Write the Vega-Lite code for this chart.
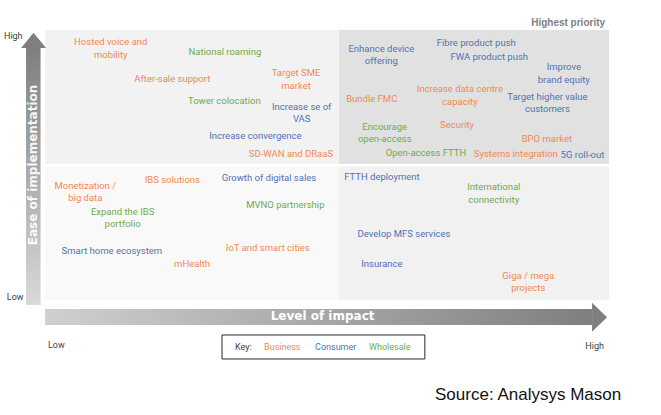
{
  "$schema": "https://vega.github.io/schema/vega-lite/v6.json",
  "width": 661,
  "height": 415,
  "padding": 0,
  "autosize": {"type": "fit", "contains": "padding"},
  "background": "white",
  "config": {"view": {"stroke": null}},
  "datasets": {
    "quadrants": [
      {"zone": "Quick wins", "impact": 0.2, "impact2": 52.2, "ease": 50.4, "ease2": 100},
      {"zone": "Highest priority", "impact": 52.2, "impact2": 100, "ease": 50.4, "ease2": 100},
      {"zone": "Low priority", "impact": 0.2, "impact2": 52.2, "ease": 0, "ease2": 49.4},
      {"zone": "Strategic", "impact": 52.2, "impact2": 100, "ease": 0, "ease2": 49.4}
    ],
    "vshaft": [{"impact": -3.19, "impact2": -0.62, "ease": -1.85, "ease2": 93.3}],
    "hshaft": [{"impact": 0.18, "impact2": 97.0, "ease": -3.33, "ease2": -9.26}],
    "vhead": [
      {"ease": 93.3, "impact": -4.07, "impact2": 0.35},
      {"ease": 99.0, "impact": -1.86, "impact2": -1.86}
    ],
    "hhead": [
      {"impact": 97.0, "ease": -1.0, "ease2": -11.74},
      {"impact": 99.65, "ease": -6.37, "ease2": -6.37}
    ],
    "keybox": [{"impact": 31.5, "impact2": 67.4, "ease": -12.96, "ease2": -21.85}],
    "initiatives": [
      {"label": "Hosted voice and\nmobility", "impact": 11.8, "ease": 95.4, "segment": "Business"},
      {"label": "National roaming", "impact": 32.0, "ease": 92.0, "segment": "Wholesale"},
      {"label": "After-sale support", "impact": 22.7, "ease": 81.9, "segment": "Business"},
      {"label": "Target SME\nmarket", "impact": 44.6, "ease": 84.0, "segment": "Business"},
      {"label": "Tower colocation", "impact": 31.9, "ease": 73.7, "segment": "Wholesale"},
      {"label": "Increase se of\nVAS", "impact": 45.6, "ease": 71.6, "segment": "Consumer"},
      {"label": "Increase convergence", "impact": 37.4, "ease": 60.7, "segment": "Consumer"},
      {"label": "SD-WAN and DRaaS", "impact": 43.7, "ease": 54.0, "segment": "Business"},
      {"label": "Enhance device\noffering", "impact": 59.7, "ease": 93.0, "segment": "Consumer"},
      {"label": "Fibre product push", "impact": 76.5, "ease": 95.3, "segment": "Consumer"},
      {"label": "FWA product push", "impact": 78.8, "ease": 90.1, "segment": "Consumer"},
      {"label": "Improve\nbrand equity", "impact": 92.0, "ease": 86.2, "segment": "Consumer"},
      {"label": "Increase data centre\ncapacity", "impact": 73.6, "ease": 78.1, "segment": "Business"},
      {"label": "Bundle FMC", "impact": 58.0, "ease": 74.3, "segment": "Business"},
      {"label": "Target higher value\ncustomers", "impact": 89.1, "ease": 75.3, "segment": "Consumer"},
      {"label": "Encourage\nopen-access", "impact": 60.3, "ease": 64.2, "segment": "Wholesale"},
      {"label": "Security", "impact": 73.1, "ease": 64.8, "segment": "Business"},
      {"label": "BPO market", "impact": 89.0, "ease": 59.5, "segment": "Business"},
      {"label": "Open-access FTTH", "impact": 67.6, "ease": 54.3, "segment": "Wholesale"},
      {"label": "Systems integration", "impact": 83.5, "ease": 54.1, "segment": "Business"},
      {"label": "5G roll-out", "impact": 95.3, "ease": 53.7, "segment": "Consumer"},
      {"label": "Monetization /\nbig data", "impact": 7.3, "ease": 42.3, "segment": "Business"},
      {"label": "IBS solutions", "impact": 22.7, "ease": 44.4, "segment": "Business"},
      {"label": "Growth of digital sales", "impact": 39.8, "ease": 45.3, "segment": "Consumer"},
      {"label": "Expand the IBS\nportfolio", "impact": 13.9, "ease": 32.7, "segment": "Wholesale"},
      {"label": "MVNO partnership", "impact": 42.7, "ease": 35.2, "segment": "Wholesale"},
      {"label": "Smart home ecosystem", "impact": 12.0, "ease": 18.3, "segment": "Consumer"},
      {"label": "IoT and smart cities", "impact": 39.6, "ease": 19.1, "segment": "Business"},
      {"label": "mHealth", "impact": 26.2, "ease": 13.3, "segment": "Business"},
      {"label": "FTTH deployment", "impact": 59.8, "ease": 45.7, "segment": "Consumer"},
      {"label": "International\nconnectivity", "impact": 79.6, "ease": 41.7, "segment": "Wholesale"},
      {"label": "Develop MFS services", "impact": 63.7, "ease": 24.3, "segment": "Consumer"},
      {"label": "Insurance", "impact": 59.8, "ease": 13.3, "segment": "Consumer"},
      {"label": "Giga / mega\nprojects", "impact": 85.7, "ease": 9.0, "segment": "Business"}
    ],
    "notesLeft": [
      {"label": "High", "impact": -7.1, "ease": 97.8},
      {"label": "Low", "impact": -6.6, "ease": 1.0},
      {"label": "Low", "impact": 0.7, "ease": -16.7},
      {"label": "Key:", "impact": 33.8, "ease": -17.5}
    ],
    "notesRight": [
      {"label": "High", "impact": 99.1, "ease": -17.2}
    ],
    "keyItems": [
      {"label": "Business", "impact": 38.94, "ease": -17.5, "segment": "Business"},
      {"label": "Consumer", "impact": 47.96, "ease": -17.5, "segment": "Consumer"},
      {"label": "Wholesale", "impact": 57.52, "ease": -17.5, "segment": "Wholesale"}
    ],
    "priority": [{"label": "Highest priority", "impact": 99.3, "ease": 102.5}],
    "yTitle": [{"label": "Ease of implementation", "impact": -1.95, "ease": 50.0}],
    "xTitle": [{"label": "Level of impact", "impact": 49.3, "ease": -5.93}],
    "source": [{"label": "Source: Analysys Mason", "impact": 69.2, "ease": -35.2}]
  },
  "encoding": {
    "x": {"field": "impact", "type": "quantitative", "scale": {"domain": [-7.8, 109.2], "nice": false, "zero": false}, "axis": null},
    "y": {"field": "ease", "type": "quantitative", "scale": {"domain": [-42.6, 111.1], "nice": false, "zero": false}, "axis": null}
  },
  "layer": [
    {
      "data": {"name": "quadrants"},
      "mark": {"type": "rect"},
      "encoding": {
        "x2": {"field": "impact2"},
        "y2": {"field": "ease2"},
        "fill": {"field": "zone", "type": "nominal", "legend": null,
          "scale": {"domain": ["Quick wins", "Highest priority", "Low priority", "Strategic"], "range": ["#f2f2f2", "#e1e1e1", "#f9f9f9", "#f1f1f1"]}}
      }
    },
    {
      "data": {"name": "vshaft"},
      "mark": {"type": "rect", "color": {"gradient": "linear", "x1": 0, "y1": 1, "x2": 0, "y2": 0, "stops": [{"offset": 0, "color": "#d9d9d9"}, {"offset": 1, "color": "#7f7f7f"}]}},
      "encoding": {"x2": {"field": "impact2"}, "y2": {"field": "ease2"}}
    },
    {
      "data": {"name": "vhead"},
      "mark": {"type": "area", "orient": "horizontal", "color": "#7f7f7f"},
      "encoding": {"x2": {"field": "impact2"}}
    },
    {
      "data": {"name": "hshaft"},
      "mark": {"type": "rect", "color": {"gradient": "linear", "x1": 0, "y1": 0, "x2": 1, "y2": 0, "stops": [{"offset": 0, "color": "#d0d0d0"}, {"offset": 1, "color": "#7f7f7f"}]}},
      "encoding": {"x2": {"field": "impact2"}, "y2": {"field": "ease2"}}
    },
    {
      "data": {"name": "hhead"},
      "mark": {"type": "area", "orient": "vertical", "color": "#7f7f7f"},
      "encoding": {"y2": {"field": "ease2"}}
    },
    {
      "data": {"name": "keybox"},
      "mark": {"type": "rect", "fill": "white", "stroke": "#262626", "strokeWidth": 1},
      "encoding": {"x2": {"field": "impact2"}, "y2": {"field": "ease2"}}
    },
    {
      "data": {"name": "initiatives"},
      "mark": {"type": "text", "font": "Roboto", "fontSize": 9.5, "lineBreak": "\n", "lineHeight": 12.5, "align": "center", "baseline": "middle"},
      "encoding": {
        "text": {"field": "label"},
        "color": {"field": "segment", "type": "nominal", "legend": null,
          "scale": {"domain": ["Business", "Consumer", "Wholesale"], "range": ["#ee8a52", "#4f73b8", "#6fab4c"]}}
      }
    },
    {
      "data": {"name": "keyItems"},
      "mark": {"type": "text", "font": "Roboto", "fontSize": 9, "align": "left", "baseline": "middle"},
      "encoding": {
        "text": {"field": "label"},
        "color": {"field": "segment", "type": "nominal", "legend": null}
      }
    },
    {
      "data": {"name": "notesLeft"},
      "mark": {"type": "text", "font": "Roboto", "fontSize": 9, "align": "left", "baseline": "middle", "color": "#404040"},
      "encoding": {"text": {"field": "label"}}
    },
    {
      "data": {"name": "notesRight"},
      "mark": {"type": "text", "font": "Roboto", "fontSize": 9, "align": "right", "baseline": "middle", "color": "#404040"},
      "encoding": {"text": {"field": "label"}}
    },
    {
      "data": {"name": "priority"},
      "mark": {"type": "text", "font": "Liberation Sans", "fontSize": 10, "fontWeight": "bold", "align": "right", "baseline": "middle", "color": "#7f7f7f"},
      "encoding": {"text": {"field": "label"}}
    },
    {
      "data": {"name": "yTitle"},
      "mark": {"type": "text", "font": "DejaVu Sans", "fontSize": 12, "fontWeight": "bold", "angle": 270, "align": "center", "baseline": "middle", "color": "#ffffff", "opacity": 0.92},
      "encoding": {"text": {"field": "label"}}
    },
    {
      "data": {"name": "xTitle"},
      "mark": {"type": "text", "font": "DejaVu Sans", "fontSize": 12, "fontWeight": "bold", "align": "center", "baseline": "middle", "color": "#ffffff"},
      "encoding": {"text": {"field": "label"}}
    },
    {
      "data": {"name": "source"},
      "mark": {"type": "text", "font": "Liberation Sans", "fontSize": 17, "align": "left", "baseline": "middle", "color": "#111111"},
      "encoding": {"text": {"field": "label"}}
    }
  ]
}
